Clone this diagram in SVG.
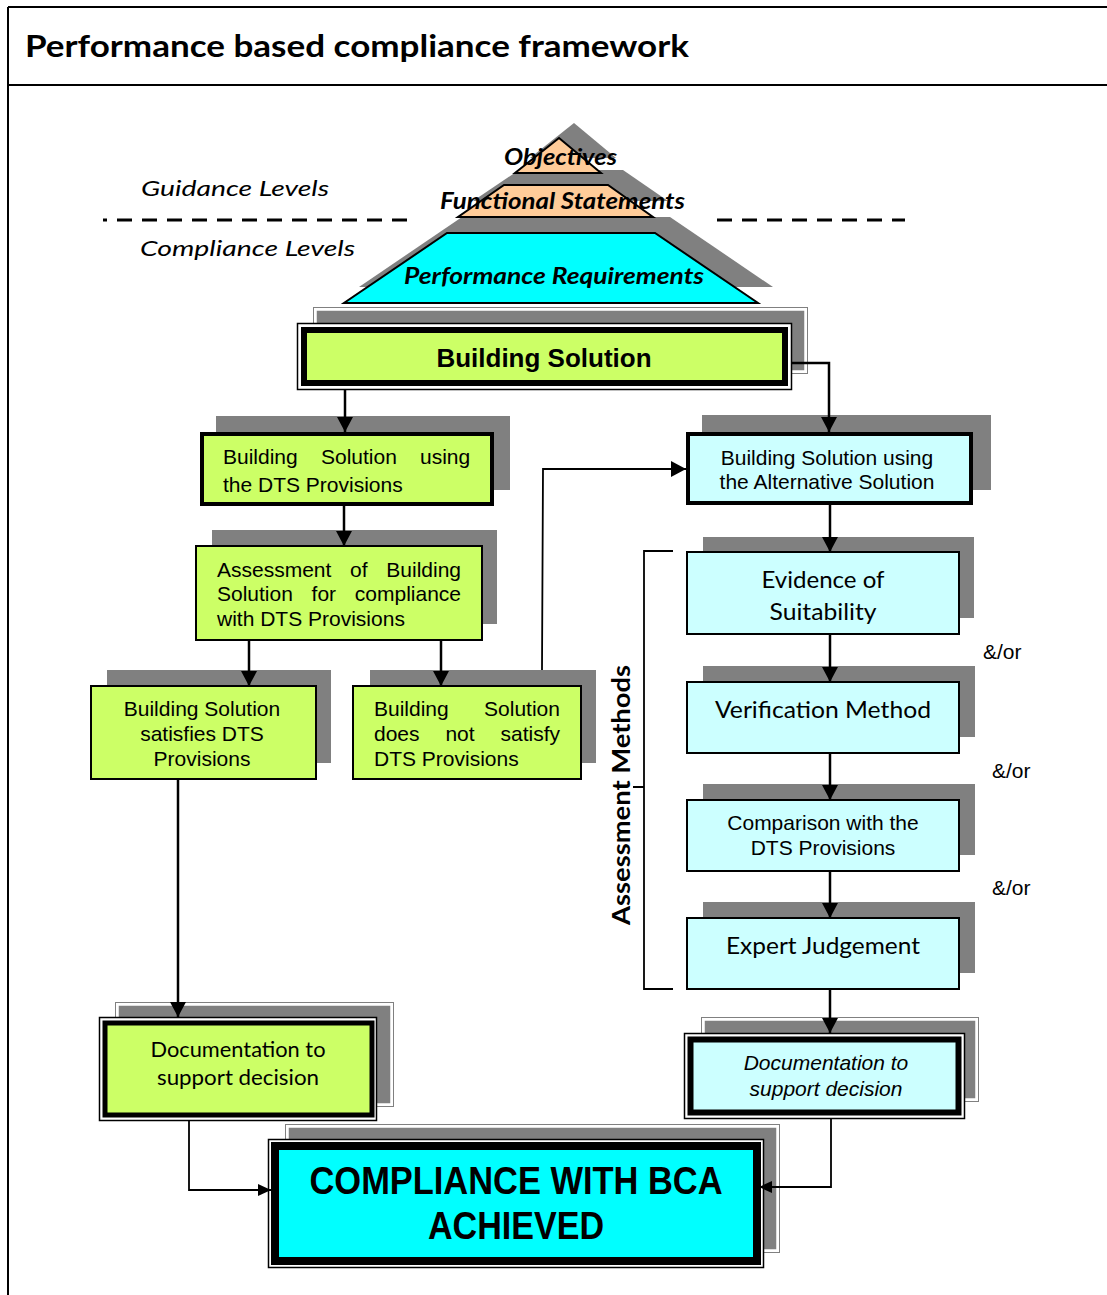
<svg xmlns="http://www.w3.org/2000/svg" width="1107" height="1295" viewBox="0 0 1107 1295">
<defs>
<marker id="ah" markerUnits="userSpaceOnUse" markerWidth="16" markerHeight="16" refX="15" refY="8" orient="auto">
<path d="M0,0 L15,8 L0,16 z" fill="#000"/>
</marker>
<marker id="ahs" markerUnits="userSpaceOnUse" markerWidth="14" markerHeight="14" refX="13" refY="7" orient="auto">
<path d="M0,1 L13,7 L0,13 z" fill="#000"/>
</marker>
<style>
.frame{stroke:#000;stroke-width:2;fill:none}
.sh{fill:#808080}
.shd{fill:#808080;stroke:#fff;stroke-width:2.5}
.sho{fill:none;stroke:#808080;stroke-width:1}
.lime{fill:#CCFF66}
.lcyan{fill:#CCFFFF}
.cyan{fill:#00FFFF}
.thin{stroke:#000;stroke-width:2}
.thick4{stroke:#000;stroke-width:4}
.outer{fill:#fff;stroke:#000;stroke-width:1.5}
.ar{font-family:"Liberation Sans",Arial,sans-serif;font-size:21px;fill:#000}
.cal{font-family:Lato,"Open Sans",sans-serif;fill:#000}
.conn{fill:none;stroke:#000;stroke-width:2.5}
.connt{fill:none;stroke:#000;stroke-width:1.8}
.dash{fill:none;stroke:#000;stroke-width:3;stroke-dasharray:15 10}
.pyr{stroke:#000;stroke-width:2}
</style>
</defs>

<!-- frame -->
<g id="frame">
<path class="frame" d="M8,7 H1107 M8,7 V1295 M8,85 H1107"/>
<text x="25" y="57" class="cal" font-size="31" font-weight="bold" textLength="664" lengthAdjust="spacingAndGlyphs">Performance based compliance framework</text>
</g>

<!-- guidance levels -->
<g id="levels">
<text x="141" y="196" class="cal" font-size="22" font-style="italic" textLength="188" lengthAdjust="spacingAndGlyphs">Guidance Levels</text>
<text x="140" y="256" class="cal" font-size="22" font-style="italic" textLength="215" lengthAdjust="spacingAndGlyphs">Compliance Levels</text>
<path class="dash" d="M103,220 H417" stroke-dashoffset="11"/>
<path class="dash" d="M717,220 H905"/>
</g>

<!-- pyramid -->
<g id="pyramid">
<g class="sh">
<polygon points="574,123 616,158 530,158"/>
<polygon points="519,170 623,170 668,201 473,201"/>
<polygon points="462,217 670,217 773,287 359,287"/>
</g>
<polygon class="pyr" fill="#FFCC99" points="559,138 601,173 515,173"/>
<polygon class="pyr" fill="#FFCC99" points="504,185 608,185 653,217 458,217"/>
<polygon class="pyr cyan" points="447,233 655,233 758,303 344,303"/>
<text x="504" y="165" class="cal" font-size="23" font-weight="bold" font-style="italic" textLength="113" lengthAdjust="spacingAndGlyphs">Objectives</text>
<text x="440" y="209" class="cal" font-size="23" font-weight="bold" font-style="italic" textLength="245" lengthAdjust="spacingAndGlyphs">Functional Statements</text>
<text x="404" y="284" class="cal" font-size="23" font-weight="bold" font-style="italic" textLength="300" lengthAdjust="spacingAndGlyphs">Performance Requirements</text>
</g>

<!-- Building Solution -->
<g id="building-solution">
<rect class="sho" x="313.5" y="307.5" width="494" height="66"/>
<rect class="shd" x="315.5" y="309.5" width="490" height="62"/>
<rect class="outer" x="297.5" y="323.5" width="494" height="66"/>
<rect class="lime" x="304" y="330" width="481" height="53" stroke="#000" stroke-width="6"/>
<text x="544" y="367" text-anchor="middle" font-family="Liberation Sans,Arial,sans-serif" font-size="26" font-weight="bold">Building Solution</text>
</g>

<!-- DTS -->
<g id="dts">
<rect class="sh" x="216" y="416" width="294" height="74"/>
<rect class="lime thick4" x="202" y="434" width="290" height="70"/>
<text class="ar" y="464"><tspan x="223">Building</tspan><tspan x="321">Solution</tspan><tspan x="420">using</tspan></text>
<text class="ar" x="223" y="492">the DTS Provisions</text>
</g>

<!-- Assessment -->
<g id="assessment">
<rect class="sh" x="212" y="530" width="285" height="94"/>
<rect class="lime thin" x="196" y="546" width="286" height="94"/>
<text class="ar" y="577"><tspan x="217">Assessment</tspan><tspan x="350">of</tspan><tspan x="386.3">Building</tspan></text>
<text class="ar" y="601"><tspan x="217">Solution</tspan><tspan x="311.6">for</tspan><tspan x="354.8">compliance</tspan></text>
<text class="ar" x="217" y="626">with DTS Provisions</text>
</g>

<!-- Satisfies -->
<g id="satisfies">
<rect class="sh" x="107" y="670" width="224" height="93"/>
<rect class="lime thin" x="91" y="686" width="225" height="93"/>
<text class="ar" x="202" y="716" text-anchor="middle">Building Solution</text>
<text class="ar" x="202" y="741" text-anchor="middle">satisfies DTS</text>
<text class="ar" x="202" y="766" text-anchor="middle">Provisions</text>
</g>

<!-- Does not satisfy -->
<g id="not-satisfy">
<rect class="sh" x="370" y="670" width="226" height="93"/>
<rect class="lime thin" x="353" y="686" width="228" height="93"/>
<text class="ar" y="716"><tspan x="374">Building</tspan><tspan x="484.1">Solution</tspan></text>
<text class="ar" y="741"><tspan x="374">does</tspan><tspan x="445.4">not</tspan><tspan x="500.5">satisfy</tspan></text>
<text class="ar" x="374" y="766">DTS Provisions</text>
</g>

<!-- Alternative -->
<g id="alternative">
<rect class="sh" x="702" y="415" width="289" height="75"/>
<rect class="lcyan thick4" x="688" y="434" width="283" height="69"/>
<text class="ar" x="827" y="465" text-anchor="middle">Building Solution using</text>
<text class="ar" x="827" y="489" text-anchor="middle">the Alternative Solution</text>
</g>

<!-- Evidence -->
<g id="evidence">
<rect class="sh" x="703" y="537" width="271" height="81"/>
<rect class="lcyan thin" x="687" y="552" width="272" height="82"/>
<text class="cal" x="823" y="588" text-anchor="middle" font-size="23" textLength="123" lengthAdjust="spacingAndGlyphs">Evidence of</text>
<text class="cal" x="823" y="620" text-anchor="middle" font-size="23" textLength="107" lengthAdjust="spacingAndGlyphs">Suitability</text>
</g>

<!-- Verification -->
<g id="verification">
<rect class="sh" x="703" y="666" width="272" height="71"/>
<rect class="lcyan thin" x="687" y="682" width="272" height="71"/>
<text class="cal" x="823" y="718" text-anchor="middle" font-size="23" textLength="216" lengthAdjust="spacingAndGlyphs">Verification Method</text>
</g>

<!-- Comparison -->
<g id="comparison">
<rect class="sh" x="703" y="784" width="272" height="71"/>
<rect class="lcyan thin" x="687" y="800" width="272" height="71"/>
<text class="ar" x="823" y="830" text-anchor="middle">Comparison with the</text>
<text class="ar" x="823" y="855" text-anchor="middle">DTS Provisions</text>
</g>

<!-- Expert -->
<g id="expert">
<rect class="sh" x="703" y="902" width="272" height="71"/>
<rect class="lcyan thin" x="687" y="918" width="272" height="71"/>
<text class="cal" x="823" y="954" text-anchor="middle" font-size="23" textLength="194" lengthAdjust="spacingAndGlyphs">Expert Judgement</text>
</g>

<!-- labels -->
<g id="andor">
<text class="ar" x="983" y="659" font-size="20">&amp;/or</text>
<text class="ar" x="992" y="778" font-size="20">&amp;/or</text>
<text class="ar" x="992" y="895" font-size="20">&amp;/or</text>
</g>
<g id="assessment-methods">
<text class="cal" transform="translate(630,795) rotate(-90)" text-anchor="middle" font-size="25" font-weight="bold" textLength="260" lengthAdjust="spacingAndGlyphs">Assessment Methods</text>
</g>

<!-- Doc left -->
<g id="doc-left">
<rect class="sho" x="115.5" y="1002.5" width="278" height="104"/>
<rect class="shd" x="117.5" y="1004.5" width="274" height="100"/>
<rect class="outer" x="99.5" y="1017.5" width="277" height="103"/>
<rect class="lime" x="105" y="1023" width="267" height="92" stroke="#000" stroke-width="5"/>
<text class="cal" x="238" y="1057" text-anchor="middle" font-size="21" textLength="175" lengthAdjust="spacingAndGlyphs">Documentation to</text>
<text class="cal" x="238" y="1085" text-anchor="middle" font-size="21" textLength="162" lengthAdjust="spacingAndGlyphs">support decision</text>
</g>

<!-- Doc right -->
<g id="doc-right">
<rect class="sho" x="701.5" y="1017.5" width="277" height="84"/>
<rect class="shd" x="703.5" y="1019.5" width="273" height="80"/>
<rect class="outer" x="684.5" y="1033.5" width="280" height="85"/>
<rect class="lcyan" x="690.5" y="1039.5" width="268" height="73" stroke="#000" stroke-width="6"/>
<text class="ar" x="826" y="1070" text-anchor="middle" font-style="italic">Documentation to</text>
<text class="ar" x="826" y="1096" text-anchor="middle" font-style="italic">support decision</text>
</g>

<!-- Compliance -->
<g id="compliance">
<rect class="sho" x="285.5" y="1124.5" width="494" height="128"/>
<rect class="shd" x="287.5" y="1126.5" width="490" height="124"/>
<rect class="outer" x="268.5" y="1139.5" width="495" height="128"/>
<rect class="cyan" x="275" y="1146" width="482" height="115" stroke="#000" stroke-width="8"/>
<text x="516" y="1194" text-anchor="middle" font-family="Liberation Sans,Arial,sans-serif" font-size="38" font-weight="bold" textLength="413" lengthAdjust="spacingAndGlyphs">COMPLIANCE WITH BCA</text>
<text x="516" y="1239" text-anchor="middle" font-family="Liberation Sans,Arial,sans-serif" font-size="38" font-weight="bold" textLength="176" lengthAdjust="spacingAndGlyphs">ACHIEVED</text>
</g>

<!-- connectors -->
<g id="connectors">
<path class="conn" d="M345,390 V432" marker-end="url(#ah)"/>
<path class="conn" d="M792,363 H829 V432" marker-end="url(#ah)"/>
<path class="conn" d="M344,506 V546" marker-end="url(#ah)"/>
<path class="conn" d="M249,640 V686" marker-end="url(#ah)"/>
<path class="conn" d="M441,640 V686" marker-end="url(#ah)"/>
<path class="connt" d="M542,670 L543,469 H686" marker-end="url(#ah)"/>
<path class="conn" d="M830,505 V552" marker-end="url(#ah)"/>
<path class="conn" d="M830,634 V682" marker-end="url(#ah)"/>
<path class="conn" d="M830,753 V800" marker-end="url(#ah)"/>
<path class="conn" d="M830,871 V918" marker-end="url(#ah)"/>
<path class="conn" d="M830,989 V1033" marker-end="url(#ah)"/>
<path class="conn" d="M178,779 V1017" marker-end="url(#ah)"/>
<path class="connt" d="M189,1121 V1190 H271" marker-end="url(#ahs)"/>
<path class="connt" d="M831,1119 V1187 H759" marker-end="url(#ahs)"/>
<path class="connt" d="M673,551 H644 V989 H673 M633,787 H644"/>
</g>
</svg>
